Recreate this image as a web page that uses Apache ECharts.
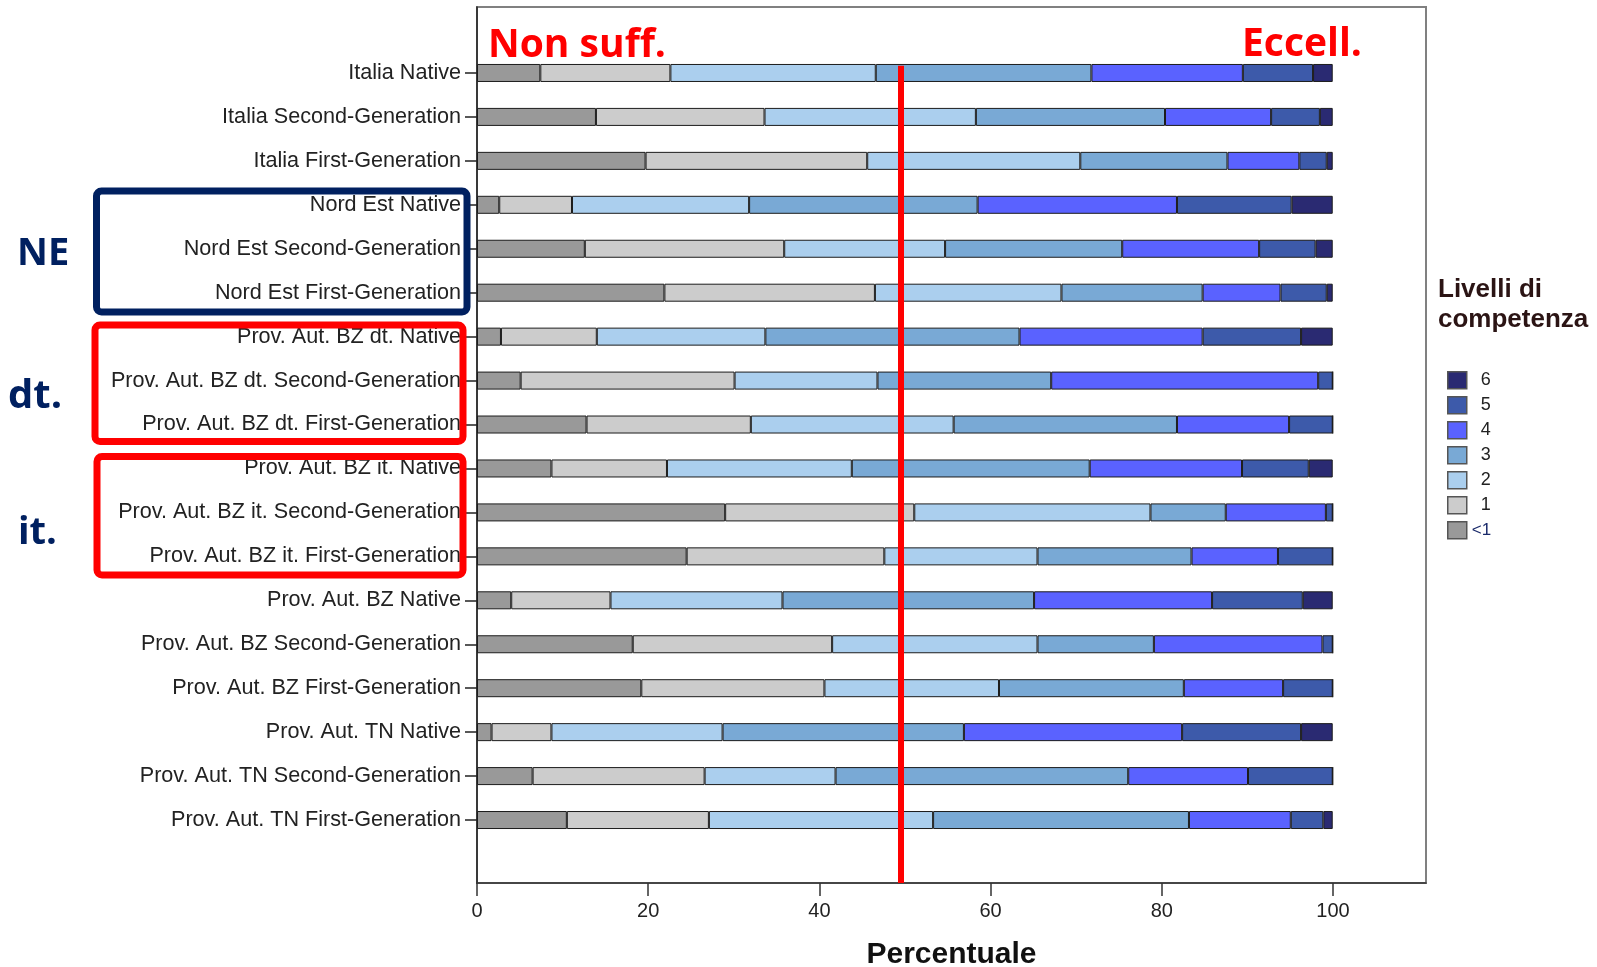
<!DOCTYPE html>
<html>
<head>
<meta charset="utf-8">
<script src="https://cdn.jsdelivr.net/npm/echarts@6/dist/echarts.min.js"></script>
<style>html,body{margin:0;padding:0;background:#fff}#c{width:1597px;height:967px}</style>
</head>
<body>
<div id="c"></div>
<script>
const categories = [
  'Italia Native','Italia Second-Generation','Italia First-Generation',
  'Nord Est Native','Nord Est Second-Generation','Nord Est First-Generation',
  'Prov. Aut. BZ dt. Native','Prov. Aut. BZ dt. Second-Generation','Prov. Aut. BZ dt. First-Generation',
  'Prov. Aut. BZ it. Native','Prov. Aut. BZ it. Second-Generation','Prov. Aut. BZ it. First-Generation',
  'Prov. Aut. BZ Native','Prov. Aut. BZ Second-Generation','Prov. Aut. BZ First-Generation',
  'Prov. Aut. TN Native','Prov. Aut. TN Second-Generation','Prov. Aut. TN First-Generation'
];
const levelNames = ['<1','1','2','3','4','5','6'];
const levelColors = ['#999999','#cccccc','#abcfee','#79a9d5','#5a62ff','#3d5aaa','#2a2a72'];
const lvLt1 = [7.4,13.9,19.7,2.6,12.6,21.9,2.8,5.1,12.8,8.7,29.0,24.5,4.0,18.2,19.2,1.7,6.5,10.5];
const lv1   = [15.2,19.7,25.9,8.5,23.3,24.6,11.2,25.0,19.2,13.5,22.1,23.1,11.6,23.3,21.4,7.0,20.1,16.6];
const lv2   = [24.0,24.7,24.9,20.7,18.8,21.8,19.7,16.7,23.7,21.6,27.6,17.9,20.1,24.0,20.4,20.0,15.3,26.2];
const lv3   = [25.2,22.1,17.2,26.7,20.7,16.5,29.7,20.3,26.1,27.8,8.8,18.0,29.4,13.6,21.6,28.2,34.2,29.9];
const lv4   = [17.7,12.4,8.4,23.3,16.0,9.1,21.4,31.2,13.1,17.8,11.7,10.1,20.8,19.7,11.6,25.5,14.0,11.9];
const lv5   = [8.2,5.7,3.2,13.4,6.6,5.4,11.5,1.7,5.1,7.8,0.8,6.4,10.6,1.2,5.8,13.9,9.9,3.8];
const lv6   = [2.3,1.5,0.7,4.8,2.0,0.7,3.7,0,0,2.8,0,0,3.5,0,0,3.7,0,1.1];
const xTickMax = 100;
const xTickStep = 20;
const thresholdValue = 49.5;

const levelData = [lvLt1, lv1, lv2, lv3, lv4, lv5, lv6];
const XMAX = 110.9;
const FONT = 'Liberation Sans, Arial, sans-serif';

const chart = echarts.init(document.getElementById('c'), null, {renderer: 'canvas'});

const barSeries = levelNames.map((name, i) => ({
  name: name,
  type: 'bar',
  stack: 'total',
  xAxisIndex: 0,
  yAxisIndex: 0,
  barWidth: 18,
  data: levelData[i],
  itemStyle: {color: levelColors[i], borderColor: '#1c1c1c', borderWidth: 1},
  emphasis: {disabled: true},
  silent: true
}));

const option = {
  animation: false,
  backgroundColor: '#ffffff',
  title: {
    text: 'Livelli di\ncompetenza',
    left: 1433, top: 270,
    textStyle: {fontFamily: FONT, fontSize: 26, fontWeight: 'bold', color: '#2b1414', lineHeight: 30}
  },
  legend: {
    data: ['6','5','4','3','2','1','<1'],
    orient: 'vertical',
    left: 1442, top: 366,
    itemWidth: 19, itemHeight: 17, itemGap: 6.5,
    icon: 'rect',
    selectedMode: false,
    itemStyle: {borderColor: '#555555', borderWidth: 1.5},
    textStyle: {fontFamily: FONT, fontSize: 18, color: '#222',
      rich: {
        d: {fontFamily: FONT, fontSize: 18, color: '#222', padding: [0,0,0,9]},
        small: {fontFamily: FONT, fontSize: 17, color: '#1a2a6a'}
      }},
    formatter: function (n) { return n === '<1' ? '{small|<1}' : '{d|' + n + '}'; }
  },
  grid: [
    {left: 477, right: 171, top: 51, height: 791, containLabel: false, outerBoundsMode: 'none'},
    {left: 477, right: 171, top: 7, height: 876, containLabel: false, outerBoundsMode: 'none',
      show: true, borderColor: '#808080', borderWidth: 2, backgroundColor: 'transparent'},
    {left: 477, width: 856, top: 7, height: 876, containLabel: false, outerBoundsMode: 'none'}
  ],
  xAxis: [
    {type: 'value', gridIndex: 0, position: 'bottom', min: 0, max: XMAX, show: false},
    {type: 'value', gridIndex: 1, position: 'bottom', min: 0, max: XMAX,
      axisLine: {show: true, onZero: false, lineStyle: {color: '#333', width: 1.5}},
      axisTick: {show: false}, axisLabel: {show: false}, splitLine: {show: false},
      name: 'Percentuale', nameLocation: 'middle', nameGap: 57,
      nameTextStyle: {fontFamily: FONT, fontSize: 30, fontWeight: 'bold', color: '#111'}
    },
    {type: 'value', gridIndex: 2, position: 'bottom', min: 0, max: xTickMax, interval: xTickStep,
      axisLine: {show: false, onZero: false},
      axisTick: {show: true, length: 13, lineStyle: {color: '#333', width: 1.5}},
      axisLabel: {fontFamily: FONT, fontSize: 20, color: '#222', margin: 18},
      splitLine: {show: false}
    }
  ],
  yAxis: [
    {type: 'category', gridIndex: 0, position: 'left', data: categories, inverse: true,
      axisLine: {show: false},
      axisTick: {show: true, alignWithLabel: true, length: 12, lineStyle: {color: '#222', width: 1.5}},
      axisLabel: {fontFamily: FONT, fontSize: 21.6, color: '#222', margin: 16},
      splitLine: {show: false}
    },
    {type: 'value', gridIndex: 1, position: 'left', min: 0, max: 1, inverse: true,
      axisLine: {show: true, onZero: false, lineStyle: {color: '#222', width: 1.5}},
      axisTick: {show: false}, axisLabel: {show: false}, splitLine: {show: false}
    },
    {type: 'value', gridIndex: 2, show: false, min: 0, max: 1}
  ],
  series: barSeries.concat([{
    type: 'line', xAxisIndex: 1, yAxisIndex: 1, data: [], silent: true,
    markLine: {
      silent: true, symbol: ['none','none'], label: {show: false},
      lineStyle: {color: '#ff0000', width: 6, type: 'solid'},
      data: [[{coord: [thresholdValue, 0.067]}, {coord: [thresholdValue, 1]}]]
    }
  }, {
    type: 'line', xAxisIndex: 2, yAxisIndex: 2, data: [], silent: true
  }]),
  graphic: [
    {type: 'text', left: 488, top: 26, z: 100, style: {text: 'Non suff.', fill: '#ff0000', font: 'bold 39px "Open Sans"'}},
    {type: 'text', left: 1242, top: 25, z: 100, style: {text: 'Eccell.', fill: '#ff0000', font: 'bold 39px "Open Sans"'}},
    {type: 'text', left: 17, top: 235, z: 100, style: {text: 'NE', fill: '#002060', font: 'bold 38px "Open Sans"'}},
    {type: 'text', left: 8, top: 377, z: 100, style: {text: 'dt.', fill: '#002060', font: 'bold 40px "Open Sans"'}},
    {type: 'text', left: 18, top: 514, z: 100, style: {text: 'it.', fill: '#002060', font: 'bold 38px "Open Sans"'}},
    {type: 'rect', z: 100, shape: {x: 96.5, y: 191, width: 370.5, height: 121, r: 5}, style: {fill: 'none', stroke: '#002060', lineWidth: 7}},
    {type: 'rect', z: 100, shape: {x: 95, y: 325, width: 368, height: 116.5, r: 5}, style: {fill: 'none', stroke: '#ff0000', lineWidth: 7}},
    {type: 'rect', z: 100, shape: {x: 97, y: 456.5, width: 366, height: 118.5, r: 5}, style: {fill: 'none', stroke: '#ff0000', lineWidth: 7}}
  ]
};
chart.setOption(option);
</script>
</body>
</html>
